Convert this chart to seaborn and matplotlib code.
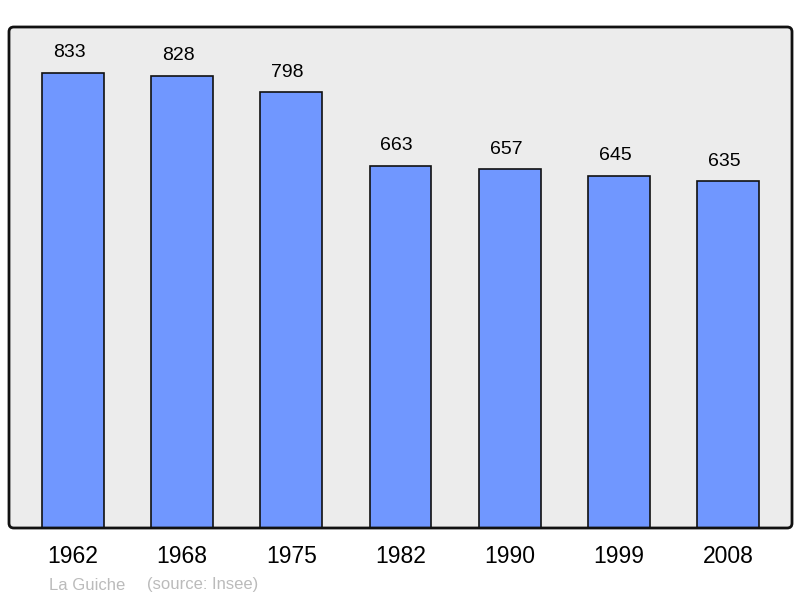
import numpy as np
import pandas as pd
import seaborn as sns
import matplotlib.pyplot as plt
from matplotlib.patches import FancyBboxPatch

# data
years = ['1962', '1968', '1975', '1982', '1990', '1999', '2008']
population = [833, 828, 798, 663, 657, 645, 635]
town = 'La Guiche'
source = '(source: Insee)'

df = pd.DataFrame({'year': years, 'pop': population})

sns.set_style('white')
plt.rcParams['font.family'] = ['Liberation Sans', 'DejaVu Sans']
plt.rcParams['text.color'] = 'black'
plt.rcParams['xtick.color'] = 'black'

fig = plt.figure(figsize=(8, 5.98), dpi=100)
box = [9 / 800, 1 - 528 / 598, 783 / 800, 501 / 598]
ax = fig.add_axes(box)
ax.set_zorder(1)
ax.patch.set_visible(False)

# rounded grey frame: fill behind the bars, border on top
for fc, ec, z in [('#ececec', 'none', -1), ('none', '#111111', 2)]:
    p = FancyBboxPatch((box[0], box[1]), box[2], box[3],
                       boxstyle='round,pad=0,rounding_size=0.006',
                       mutation_aspect=800 / 598,
                       transform=fig.transFigure, facecolor=fc,
                       edgecolor=ec, linewidth=2, zorder=z)
    fig.patches.append(p)

sns.barplot(data=df, x='year', y='pop', color='#7097ff', saturation=1,
            edgecolor='#111111', linewidth=1.2, width=0.567, ax=ax)

# value labels sit a little left of the bar centre in the original
for i, v in enumerate(population):
    ax.text(i - 0.035, v + 20 / 0.546, str(v), ha='center', va='center', fontsize=14)

ax.set_xlim(-0.585, 6.585)
ax.set_ylim(0, 917)
ax.set_yticks([])
ax.set_xlabel('')
ax.set_ylabel('')
for s in ax.spines.values():
    s.set_visible(False)
ax.tick_params(axis='x', length=0, pad=12, labelsize=16.5)

fig.text(49 / 800, 1 - 585 / 598, town, color='#bbbbbb', fontsize=12, va='center')
fig.text(147 / 800, 1 - 585 / 598, source, color='#bbbbbb', fontsize=12, va='center')

plt.savefig('out.png', dpi=100)
